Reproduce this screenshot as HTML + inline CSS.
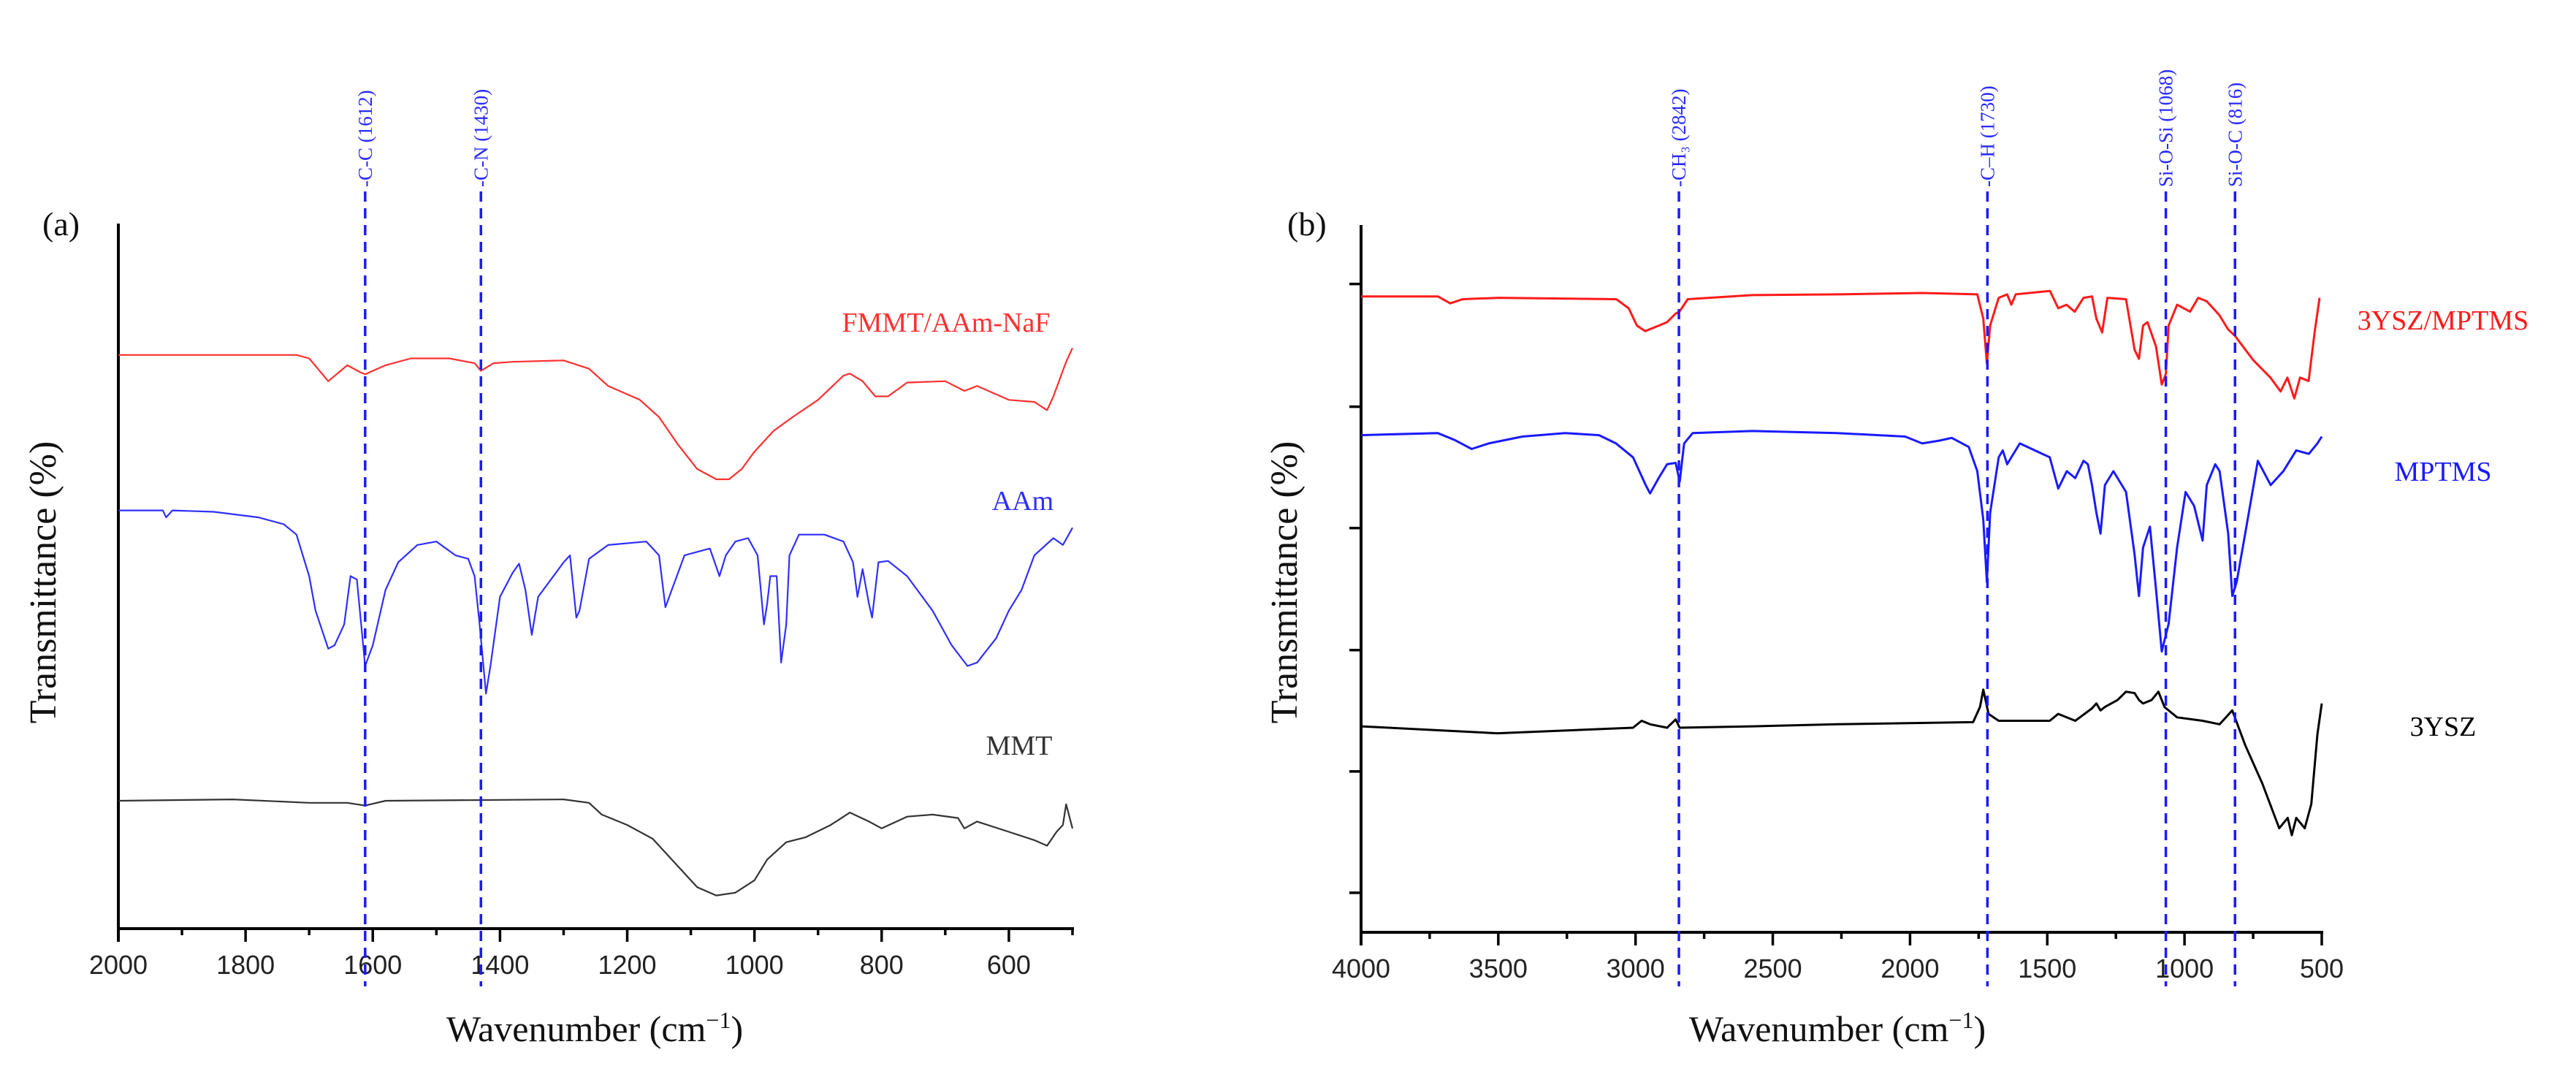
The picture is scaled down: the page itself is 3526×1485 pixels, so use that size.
<!DOCTYPE html>
<html><head><meta charset="utf-8"><style>
html,body{margin:0;padding:0;background:#fff;}
svg{display:block;}
</style></head><body>
<svg id="fig" width="3526" height="1485" viewBox="0 0 3526 1485" xmlns="http://www.w3.org/2000/svg">
<rect x="0" y="0" width="3526" height="1485" fill="#fff"/>
<g id="panelA"></g>
<g id="panelB"></g>
</svg>
<script>
// ---------- Panel (a) data: [wavenumber, transmittance (arb.)] ----------
const aTickLabels = [2000,1800,1600,1400,1200,1000,800,600];
const aMarkers = [1612,1430];
const aMarkerLabels = ["-C-C (1612)","-C-N (1430)"];
const aFMMT = [[2000,83],[1720,83],[1700,82.5],[1670,79.2],[1640,81.5],[1620,80.5],[1612,80.2],[1580,81.5],[1540,82.5],[1480,82.5],[1440,81.8],[1430,80.7],[1410,81.8],[1380,82],[1300,82.2],[1260,81],[1230,78.5],[1180,76.5],[1150,74],[1120,70],[1090,66.5],[1060,65],[1040,65],[1020,66.5],[1000,69],[970,72],[940,74],[900,76.5],[860,80],[850,80.3],[830,79.2],[810,77],[790,77],[760,79],[700,79.2],[670,77.8],[650,78.5],[600,76.5],[560,76.2],[540,75],[530,77],[520,79.5],[510,82],[500,84]];
const aAAm = [[2000,60.5],[1930,60.5],[1925,59.5],[1915,60.5],[1850,60.3],[1780,59.5],[1740,58.5],[1720,57],[1700,51],[1690,46],[1670,40.5],[1660,41],[1645,44],[1635,51],[1625,50.5],[1612,38],[1600,41],[1580,49],[1560,53],[1530,55.5],[1500,56],[1470,54],[1450,53.5],[1440,51],[1432,44],[1422,34],[1415,38],[1400,48],[1380,51.5],[1370,52.8],[1360,49],[1350,42.5],[1340,48],[1300,53],[1290,54],[1280,45],[1275,46],[1260,53.5],[1230,55.5],[1170,56],[1150,54],[1140,46.5],[1130,49],[1110,54],[1070,55],[1055,51],[1045,54],[1030,56],[1010,56.5],[995,54],[985,44],[980,47],[975,51],[965,51],[958,38.5],[950,44],[945,54],[930,57],[890,57],[860,56],[845,53],[838,48],[830,52],[820,47],[815,45],[805,53],[790,53.2],[760,51],[720,46],[690,41],[665,38],[650,38.5],[620,42],[600,46],[580,49],[560,54],[530,56.5],[515,55.5],[500,58]];
const aMMT = [[2000,18.5],[1820,18.7],[1700,18.2],[1640,18.2],[1612,17.8],[1580,18.5],[1300,18.7],[1260,18.2],[1240,16.5],[1200,15],[1160,13],[1120,9],[1090,6],[1060,4.8],[1030,5.2],[1000,7],[980,10],[950,12.5],[920,13.2],[880,15],[850,16.8],[820,15.5],[800,14.5],[760,16.2],[720,16.5],[680,16],[670,14.5],[650,15.5],[600,14],[560,12.8],[540,12],[525,14],[515,15],[510,18],[500,14.5]];

// ---------- Panel (b) data ----------
const bTickLabels = [4000,3500,3000,2500,2000,1500,1000,500];
const bYTicks = [93.5,75.8,58.3,40.7,23.2,5.7];
const bMarkers = [2842,1718,1068,816];
const bMarkerLabels = ["-CH\u2083 (2842)","-C\u2013H (1730)","Si-O-Si (1068)","Si-O-C (816)"];
const bYSZMPTMS = [[4000,91.7],[3720,91.7],[3675,90.7],[3630,91.3],[3500,91.5],[3070,91.3],[3025,90],[2995,87.5],[2965,86.7],[2915,87.5],[2885,88],[2855,89.2],[2840,89.5],[2810,91.3],[2575,91.9],[2265,92],[1955,92.2],[1755,92],[1733,88.5],[1720,82],[1708,87.5],[1677,91.5],[1646,92],[1631,90.5],[1615,92],[1490,92.5],[1460,90],[1430,90.5],[1400,89.5],[1368,91.5],[1337,91.7],[1321,88.5],[1300,86.5],[1281,91.5],[1213,91.3],[1182,84],[1166,82.7],[1151,87.5],[1135,88],[1104,84.5],[1083,79],[1068,80.5],[1058,87.5],[1027,90.5],[980,89.5],[950,91.5],[919,91],[873,89],[842,87],[816,86],[749,82.5],[687,80],[650,78],[625,80],[600,77],[579,80],[548,79.5],[526,86.5],[508,91.5]];
const bMPTMS = [[4000,71.7],[3721,72],[3659,71],[3597,69.7],[3535,70.5],[3412,71.5],[3257,72],[3133,71.7],[3071,70.5],[3009,68.5],[2963,64.5],[2947,63.3],[2916,65.5],[2885,67.5],[2854,67.7],[2839,65],[2823,70.5],[2792,72],[2575,72.3],[2266,72],[2018,71.5],[1956,70.5],[1894,70.9],[1848,71.3],[1786,70],[1755,66.5],[1733,59.5],[1720,50.5],[1708,60.5],[1677,68.5],[1662,69.5],[1646,67.5],[1631,68.5],[1600,70.5],[1491,68.5],[1460,64],[1429,66.5],[1398,65.5],[1368,68],[1352,67.5],[1337,64.5],[1321,60.5],[1306,57.5],[1290,64.5],[1259,66.5],[1213,63.5],[1182,54.5],[1166,48.5],[1151,55.5],[1126,58.5],[1104,49.5],[1083,40.5],[1058,44.5],[1027,55.5],[996,63.5],[965,61.5],[934,56.5],[919,64.5],[888,67.5],[872,66.5],[841,57.5],[826,48.5],[810,50.5],[779,57.5],[733,68],[686,64.5],[640,66.5],[593,69.5],[547,69],[516,70.5],[500,71.5]];
const bYSZ = [[4000,29.7],[3504,28.7],[3009,29.5],[2978,30.5],[2947,30],[2885,29.5],[2854,30.7],[2839,29.5],[2575,29.7],[2266,30],[1770,30.3],[1745,32.5],[1733,35],[1714,31.5],[1677,30.5],[1491,30.5],[1460,31.5],[1398,30.5],[1337,32.3],[1321,33],[1306,32],[1290,32.5],[1244,33.5],[1213,34.7],[1182,34.5],[1166,33.5],[1151,33],[1120,33.5],[1095,34.7],[1073,32.5],[1027,31],[934,30.5],[872,30],[826,32],[779,27],[717,21.5],[655,15],[624,16.5],[609,14],[593,16.5],[562,15],[538,18.5],[516,28.5],[500,33]];

const NS = "http://www.w3.org/2000/svg";
function mk(parent, tag, attrs, text){
  const e = document.createElementNS(NS, tag);
  for (const k in attrs) e.setAttribute(k, attrs[k]);
  if (text !== undefined) e.textContent = text;
  parent.appendChild(e);
  return e;
}
function scaleX(w, wMax, wMin, x0, x1){ return x0 + (wMax - w) / (wMax - wMin) * (x1 - x0); }
function scaleY(t, yBottom, yTop){ return yBottom - t / 102 * (yBottom - yTop); }

function drawPanel(g, cfg){
  const X = w => scaleX(w, cfg.wMax, cfg.wMin, cfg.x0, cfg.x1);
  const Y = t => scaleY(t, cfg.yb, cfg.yt);
  // axes
  const ya = mk(g, "line", {x1:cfg.x0, y1:cfg.yt, x2:cfg.x0, y2:cfg.yb+18, stroke:"#000","stroke-width":4});
  
  
  const xa = mk(g, "line", {x1:cfg.x0-2, y1:cfg.yb, x2:cfg.x1+2, y2:cfg.yb, stroke:"#000","stroke-width":4});
  
  
  // x ticks
  for (let w = cfg.wMax; w >= cfg.wMin; w -= cfg.minor){
    const major = ((cfg.wMax - w) % cfg.major) === 0;
    const t = mk(g, "line", {x1:X(w), y1:cfg.yb, x2:X(w), y2:cfg.yb + (major?18:9), stroke:"#000","stroke-width":3.5});
    
    
  }
  cfg.ticks.forEach(v => {
    const t = mk(g, "text", {x:X(v), y:cfg.yb+62, "font-family":"Liberation Sans, sans-serif","font-size":36,"text-anchor":"middle",fill:"#222"}, String(v));
    
    
  });
  (cfg.yTicks||[]).forEach(v => {
    const t = mk(g, "line", {x1:cfg.x0-16, y1:Y(v), x2:cfg.x0, y2:Y(v), stroke:"#000","stroke-width":3.5});
    
    
  });
  // titles
  const xt = mk(g, "text", {x:cfg.xtX, y:1425, "font-family":"Liberation Serif, serif","font-size":50,"text-anchor":"middle",fill:"#111"}, "Wavenumber (cm");
  const sup = mk(xt, "tspan", {"baseline-shift":"super","font-size":32}, "\u22121");
  mk(xt, "tspan", {}, ")");
  
  
  const yt = mk(g, "text", {x:0, y:0, transform:`translate(${cfg.ytX},797) rotate(-90)`, "font-family":"Liberation Serif, serif","font-size":52,"text-anchor":"middle",fill:"#111"}, "Transmittance (%)");
  
  
  const pl = mk(g, "text", {x:cfg.plX, y:cfg.plY, "font-family":"Liberation Serif, serif","font-size":46,fill:"#111"}, cfg.panelLabel);
  
  
  // series
  cfg.series.forEach(s => {
    const d = s.data.map((p,i) => (i?"L":"M") + X(p[0]).toFixed(1) + "," + Y(p[1]).toFixed(1)).join(" ");
    const p = mk(g, "path", {d:d, fill:"none", stroke:s.color, "stroke-width":s.width, "stroke-linejoin":"round"});
    
    
    const lt = mk(g, "text", {x:s.lx, y:s.ly, "font-family":"Liberation Serif, serif","font-size":38,"text-anchor":"middle",fill:s.color}, s.label);
    
    
  });
  // markers
  cfg.markers.forEach((w,i) => {
    const l = mk(g, "line", {x1:X(w), y1:cfg.mTop, x2:X(w), y2:1350, stroke:"#1a1aff","stroke-width":3.5,"stroke-dasharray":"14,9"});
    
    
    const t = mk(g, "text", {x:0, y:0, transform:`translate(${X(w)+9},${cfg.mTop-6}) rotate(-90)`, "font-family":"Liberation Serif, serif","font-size":27,"text-anchor":"start",fill:"#2a2aff"}, cfg.markerLabels[i]);
    
    
  });
}

drawPanel(document.getElementById("panelA"), {
  wMax:2000, wMin:500, x0:162, x1:1468, yb:1271, yt:306, major:200, minor:100,
  ticks:aTickLabels, yTicks:[], xtX:814, ytX:76, plX:58, plY:322, panelLabel:"(a)",
  markers:aMarkers, markerLabels:aMarkerLabels, mTop:262,
  series:[
    {data:aFMMT, color:"#ff3030", width:2.2, name:"fmmt-aam-naf-line", label:"FMMT/AAm-NaF", lx:1295, ly:454},
    {data:aAAm, color:"#2f2fff", width:2.2, name:"aam-line", label:"AAm", lx:1400, ly:698},
    {data:aMMT, color:"#333", width:2.2, name:"mmt-line", label:"MMT", lx:1395, ly:1033}
  ]
});
drawPanel(document.getElementById("panelB"), {
  wMax:4000, wMin:500, x0:1863, x1:3178, yb:1276, yt:308, major:500, minor:250,
  ticks:bTickLabels, yTicks:bYTicks, xtX:2515, ytX:1775, plX:1762, plY:322, panelLabel:"(b)",
  markers:bMarkers, markerLabels:bMarkerLabels, mTop:262,
  series:[
    {data:bYSZMPTMS, color:"#ff1a1a", width:3, name:"3ysz-mptms-line", label:"3YSZ/MPTMS", lx:3344, ly:451},
    {data:bMPTMS, color:"#1a1aff", width:3, name:"mptms-line", label:"MPTMS", lx:3344, ly:658},
    {data:bYSZ, color:"#000", width:3, name:"3ysz-line", label:"3YSZ", lx:3344, ly:1007}
  ]
});
</script>
</body></html>
